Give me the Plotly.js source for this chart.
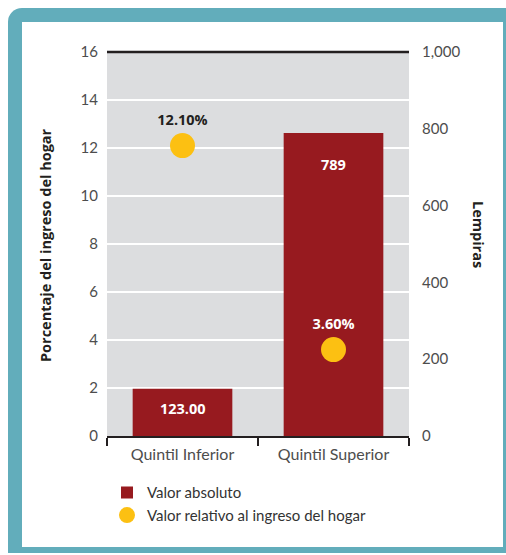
<!DOCTYPE html>
<html>
<head>
<meta charset="utf-8">
<script src="https://cdn.plot.ly/plotly-3.0.1.min.js"></script>
<style>
  html, body { margin: 0; padding: 0; background: #ffffff; }
  #frame { position: absolute; left: 8px; top: 8px; width: 498px; height: 545px; background: #62adbb; border-top-left-radius: 14px; }
  #inner { position: absolute; left: 22px; top: 22px; width: 481px; height: 525px; background: #ffffff; }
  #chart { position: absolute; left: 0; top: 0; width: 506px; height: 555px; }
</style>
</head>
<body>
<div id="frame"></div>
<div id="inner"></div>
<div id="chart"></div>
<script>
// ---- data ----
const categories = ["Quintil Inferior", "Quintil Superior"];
const absoluteValues = [123, 789];            // Lempiras (right axis)
const absoluteLabels = ["123.00", "789"];
const relativeValues = [12.10, 3.60];         // % of household income (left axis)
const relativeLabels = ["12.10%", "3.60%"];
const seriesNames = ["Valor absoluto", "Valor relativo al ingreso del hogar"];
const leftTitle = "Porcentaje del ingreso del hogar";
const rightTitle = "Lempiras";

const FONT = "Lato, 'Open Sans', sans-serif";
const BFONT = "'Open Sans', Lato, sans-serif";
const RED = "#971a1f";
const YELLOW = "#fcc012";

const traces = [
  {
    type: "bar",
    name: seriesNames[0],
    x: categories,
    y: absoluteValues,
    yaxis: "y",
    width: 0.66,
    marker: { color: RED },
    hoverinfo: "skip"
  },
  {
    type: "scatter",
    mode: "markers+text",
    name: seriesNames[1],
    x: categories,
    y: relativeValues,
    yaxis: "y2",
    text: relativeLabels,
    textposition: "top center",
    textfont: { family: BFONT, size: 14.5, color: ["#231f20", "#ffffff"], weight: "bold" },
    marker: { color: YELLOW, size: 25 },
    hoverinfo: "skip"
  }
];

const barAnn = categories.map((c, i) => ({
  x: c, y: absoluteValues[i], xref: "x", yref: "y",
  text: "<b>" + absoluteLabels[i] + "</b>",
  showarrow: false,
  yshift: i === 0 ? -20 : -31,
  font: { family: BFONT, size: 14.5, color: "#ffffff" }
}));

const layout = {
  width: 506, height: 555,
  margin: { l: 107, r: 97, t: 52, b: 119 },
  paper_bgcolor: "rgba(0,0,0,0)",
  plot_bgcolor: "#dcdddf",
  font: { family: FONT, size: 14, color: "#4d4d4d" },
  showlegend: true,
  legend: {
    x: 0.0, y: -0.105, xanchor: "left", yanchor: "top",
    orientation: "v",
    font: { family: FONT, size: 15, color: "#333333" },
    bgcolor: "rgba(0,0,0,0)"
  },
  xaxis: {
    type: "category",
    showline: true, linecolor: "#231f20", linewidth: 2,
    ticks: "outside", tickson: "boundaries", ticklen: 8, tickcolor: "#231f20", tickwidth: 1.5,
    ticklabelstandoff: 3,
    tickfont: { family: FONT, size: 16, color: "#4d4d4d" },
    showgrid: false, zeroline: false, fixedrange: true
  },
  // Lempiras axis (right) - base axis so the markers draw on top of the bars
  yaxis: {
    side: "right",
    range: [0, 1000], dtick: 200, tick0: 0, tickformat: ",d",
    showgrid: false, zeroline: false, showline: false, ticks: "",
    ticklabelstandoff: 12,
    tickfont: { family: FONT, size: 15, color: "#4d4d4d" },
    fixedrange: true
  },
  // percentage axis (left)
  yaxis2: {
    overlaying: "y", side: "left",
    range: [0, 16], dtick: 2, tick0: 0,
    showgrid: true, gridcolor: "#ffffff", gridwidth: 1.5,
    zeroline: false, showline: false, ticks: "",
    ticklabelstandoff: 8,
    tickfont: { family: FONT, size: 15, color: "#4d4d4d" },
    fixedrange: true
  },
  shapes: [
    { type: "line", xref: "paper", yref: "paper", x0: 0, x1: 1, y0: 1, y1: 1,
      line: { color: "#231f20", width: 2.5 } }
  ],
  annotations: barAnn.concat([
    { xref: "paper", yref: "paper", x: (45 - 107) / 302, y: (436 - 245) / 384, xanchor: "center", yanchor: "middle",
      text: "<b>" + leftTitle + "</b>", textangle: -90, showarrow: false,
      font: { family: BFONT, size: 14.5, color: "#231f20" } },
    { xref: "paper", yref: "paper", x: (479 - 107) / 302, y: (436 - 234) / 384, xanchor: "center", yanchor: "middle",
      text: "<b>" + rightTitle + "</b>", textangle: 90, showarrow: false,
      font: { family: BFONT, size: 14.5, color: "#231f20" } }
  ])
};

Plotly.newPlot("chart", traces, layout, { displayModeBar: false, staticPlot: true });
</script>
</body>
</html>
